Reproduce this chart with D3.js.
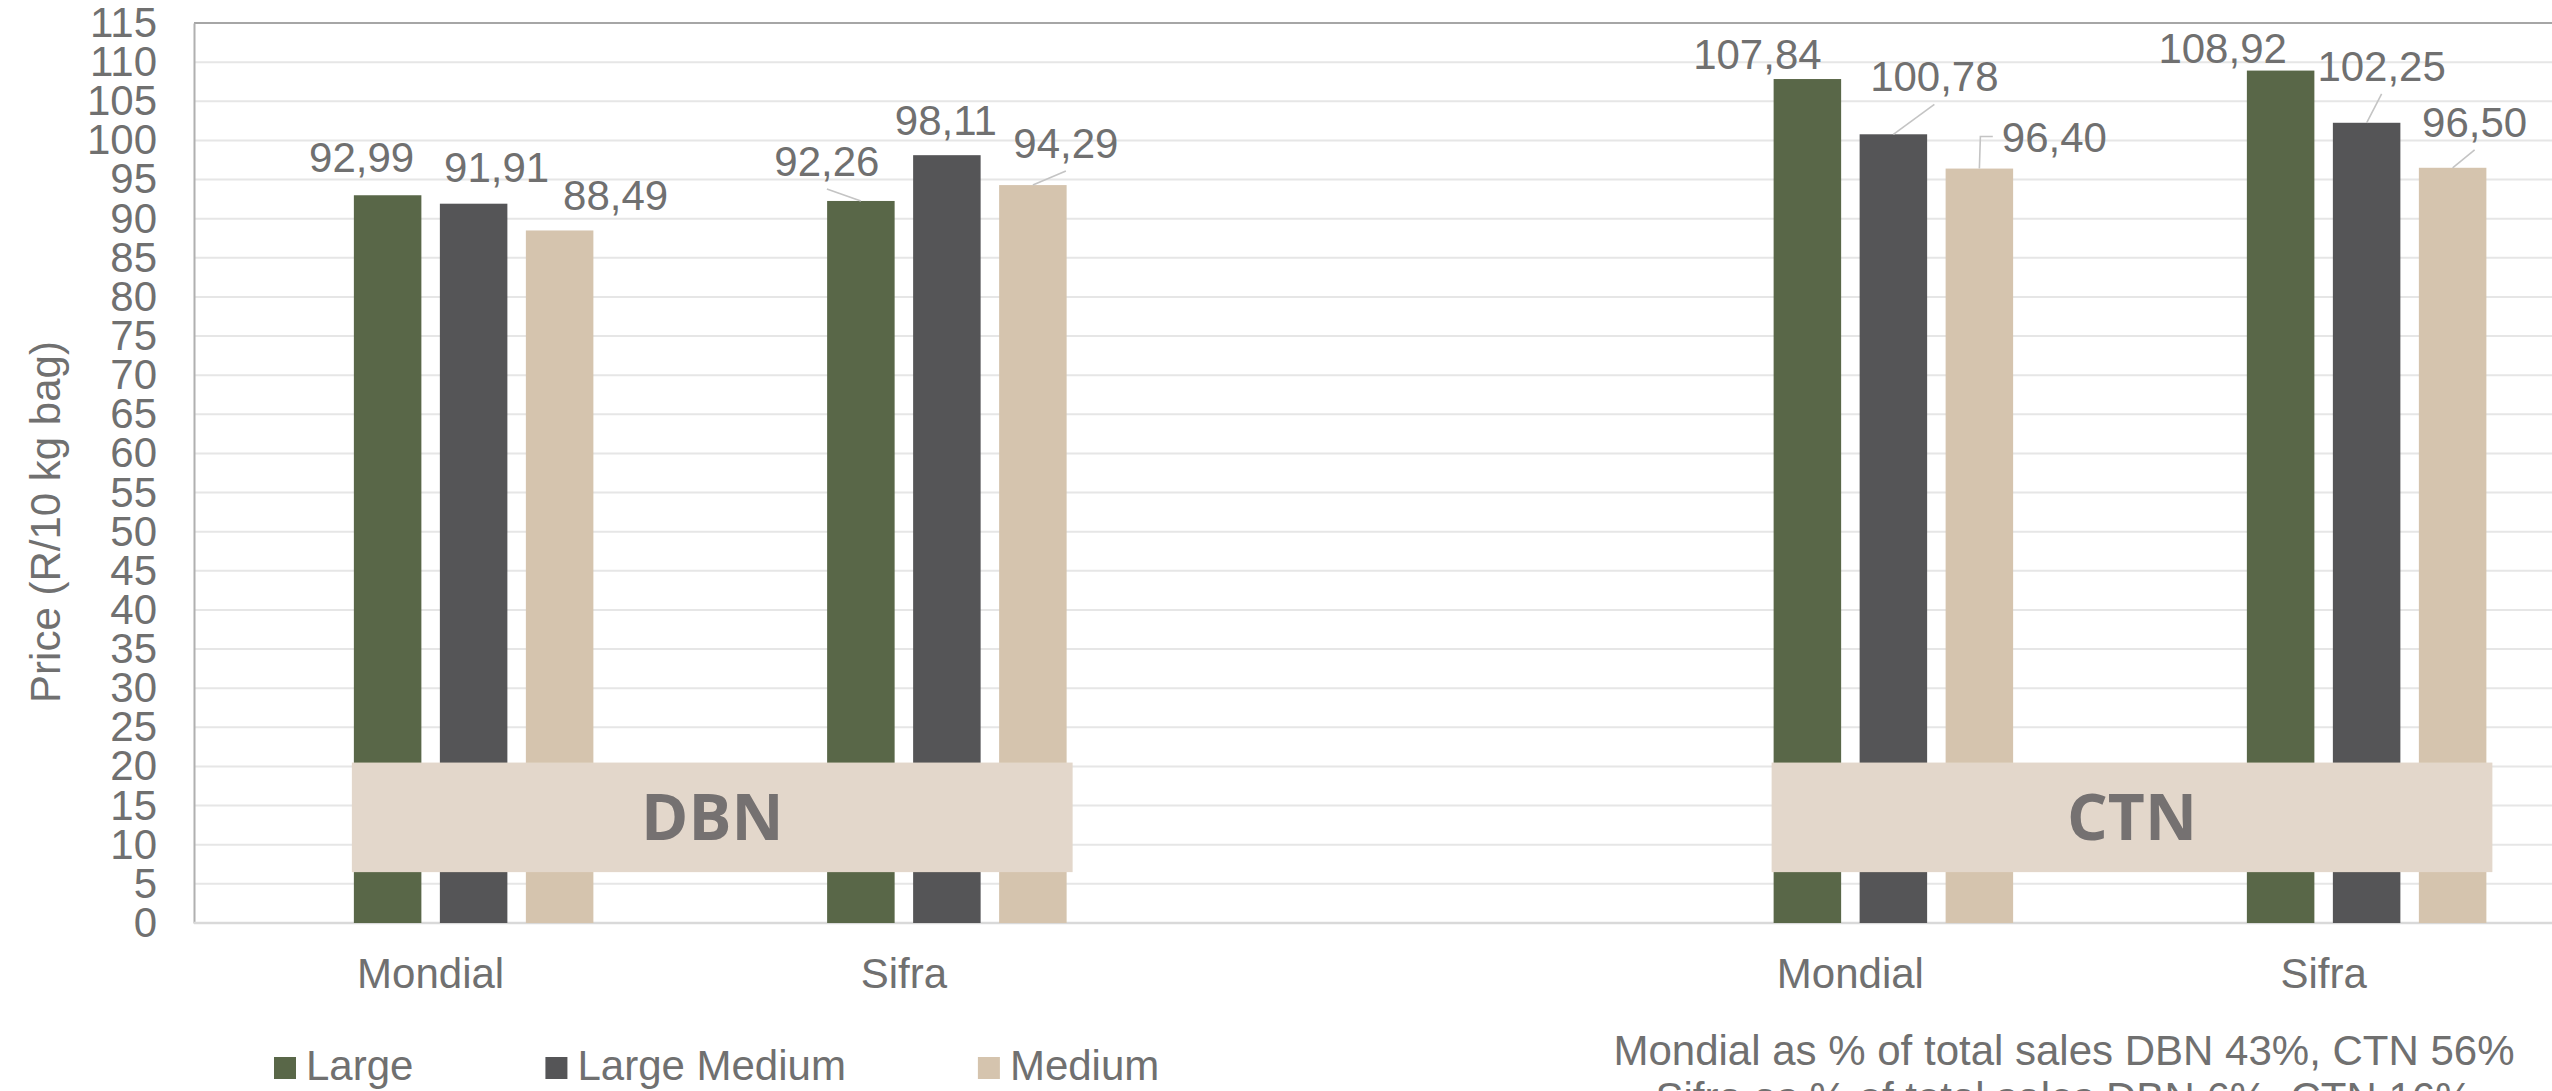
<!DOCTYPE html>
<html>
<head>
<meta charset="utf-8">
<script src="https://cdn.jsdelivr.net/npm/d3@7/dist/d3.min.js"></script>
<style>
  html, body { margin: 0; padding: 0; background: #ffffff; overflow: hidden; }
  svg { display: block; }
</style>
</head>
<body>
<svg id="chart" width="2552" height="1091"></svg>
<script>
// ---------- data ----------
const categories = ["Mondial", "Sifra", "", "Mondial", "Sifra"];
const seriesNames = ["Large", "Large Medium", "Medium"];
const largeValues = [92.99, 92.26, null, 107.84, 108.92];
const largeMediumValues = [91.91, 98.11, null, 100.78, 102.25];
const mediumValues = [88.49, 94.29, null, 96.40, 96.50];
const yTicks = [0, 5, 10, 15, 20, 25, 30, 35, 40, 45, 50, 55, 60, 65, 70, 75, 80, 85, 90, 95, 100, 105, 110, 115];
const markets = ["DBN", "CTN"];
const marketCategories = [[0, 1], [3, 4]];
const yTitle = "Price (R/10 kg bag)";
const notes = ["Mondial as % of total sales DBN 43%, CTN 56%", "Sifra as % of total sales DBN 6%, CTN 16%"];

// ---------- layout (label offsets from bar top-centre: dx, dy of baseline, leader type) ----------
const labelLayout = [
  [[-26, -23, ""], [-34, -25, "b"], null, [-50, -10, ""], [-58, -8, ""]],
  [[23, -22, ""], [-1, -20, ""], null, [41, -43, "b"], [15, -42, "b"]],
  [[56, -20, ""], [33, -27, "b"], null, [75, -17, "l"], [22, -31, "b"]]
];

const colors = ["#596748", "#555557", "#d5c4ae"];
const textColor = "#707070";
const font = "'Liberation Sans', Arial, sans-serif";

const seriesValues = [largeValues, largeMediumValues, mediumValues];

const svg = d3.select("#chart");
const plotLeft = 194, plotTop = 23, plotBottom = 923;
const bandW = 473.25;

const x0 = d3.scaleBand()
  .domain(d3.range(categories.length))
  .range([plotLeft, plotLeft + bandW * categories.length]);

const x1 = d3.scaleBand()
  .domain(["_spacer", ...seriesNames])
  .range([0, x0.bandwidth()])
  .paddingInner(0.215)
  .paddingOuter(0.859);

const y = d3.scaleLinear().domain([0, 115]).range([plotBottom, plotTop]);

// gridlines
svg.append("g")
  .selectAll("line")
  .data(yTicks.filter(t => t > 0 && t < 115))
  .join("line")
  .attr("x1", plotLeft).attr("x2", 2552)
  .attr("y1", d => y(d)).attr("y2", d => y(d))
  .attr("stroke", "#e6e6e6").attr("stroke-width", 2);

// top border
svg.append("line")
  .attr("x1", plotLeft).attr("x2", 2552)
  .attr("y1", y(115)).attr("y2", y(115))
  .attr("stroke", "#a6a6a6").attr("stroke-width", 2.2);

// y axis
const yAxis = d3.axisLeft(y).tickValues(yTicks).tickSize(0).tickPadding(37);
const yg = svg.append("g").attr("transform", `translate(${plotLeft},0)`).call(yAxis);
yg.select(".domain").attr("stroke", "#b0b0b0").attr("stroke-width", 2);
yg.selectAll("text")
  .attr("fill", textColor)
  .style("font-family", font)
  .style("font-size", "42px");

// bottom axis line
svg.append("line")
  .attr("x1", plotLeft).attr("x2", 2552)
  .attr("y1", plotBottom).attr("y2", plotBottom)
  .attr("stroke", "#d9d9d9").attr("stroke-width", 2.5);

// x axis labels
const xAxis = d3.axisBottom(x0).tickSize(0).tickPadding(35).tickFormat(i => categories[i]);
const xg = svg.append("g").attr("transform", `translate(0,${plotBottom})`).call(xAxis);
xg.select(".domain").remove();
xg.selectAll("text")
  .attr("fill", textColor)
  .style("font-family", font)
  .style("font-size", "42px");

// y title
svg.append("text")
  .attr("transform", `translate(60,${(plotTop + plotBottom) / 2 + 49}) rotate(-90)`)
  .attr("text-anchor", "middle")
  .attr("fill", textColor)
  .style("font-family", font)
  .style("font-size", "42px")
  .text(yTitle);

// bars
const barData = [];
seriesValues.forEach((vals, s) => {
  vals.forEach((v, c) => {
    if (v == null) return;
    barData.push({ s, c, v, name: seriesNames[s] });
  });
});

svg.append("g")
  .selectAll("rect")
  .data(barData)
  .join("rect")
  .attr("x", d => x0(d.c) + x1(d.name))
  .attr("y", d => y(d.v))
  .attr("width", x1.bandwidth())
  .attr("height", d => y(0) - y(d.v))
  .attr("fill", d => colors[d.s]);

// data labels + leader lines
const fmt = v => v.toFixed(2).replace(".", ",");
const leaderG = svg.append("g");
const labelG = svg.append("g");
barData.forEach(d => {
  const lay = labelLayout[d.s][d.c];
  const bx = x0(d.c) + x1(d.name) + x1.bandwidth() / 2;
  const by = y(d.v);
  const lx = bx + lay[0];
  const ly = by + lay[1];
  const t = labelG.append("text")
    .attr("x", lx).attr("y", ly)
    .attr("text-anchor", "middle")
    .attr("fill", textColor)
    .style("font-family", font)
    .style("font-size", "42px")
    .text(fmt(d.v));
  if (lay[2] === "b") {
    leaderG.append("line")
      .attr("x1", lx).attr("y1", ly + 13)
      .attr("x2", bx).attr("y2", by)
      .attr("stroke", "#c4c4c4").attr("stroke-width", 1.6);
  } else if (lay[2] === "l") {
    const w = t.node().getComputedTextLength();
    const left = lx - w / 2;
    leaderG.append("path")
      .attr("d", d3.line()([[left - 9, ly - 15], [bx + 1, ly - 15], [bx, by]]))
      .attr("fill", "none")
      .attr("stroke", "#c4c4c4").attr("stroke-width", 1.6);
  }
});

// market boxes
markets.forEach((m, i) => {
  const [c0, c1] = marketCategories[i];
  const xl = x0(c0) + x1(seriesNames[0]) - 2;
  const xr = x0(c1) + x1(seriesNames[2]) + x1.bandwidth() + 6;
  const yt = y(20.5), yb = y(6.5);
  svg.append("rect")
    .attr("x", xl).attr("y", yt)
    .attr("width", xr - xl).attr("height", yb - yt)
    .attr("fill", "#e3d7cb");
  svg.append("text")
    .attr("x", (xl + xr) / 2).attr("y", (yt + yb) / 2)
    .attr("dy", "0.36em")
    .attr("text-anchor", "middle")
    .attr("fill", "#757171")
    .style("font-family", "'Open Sans', sans-serif")
    .style("font-weight", "bold")
    .style("font-size", "64px")
    .text(m);
});

// legend
const legend = svg.append("g").attr("transform", "translate(274,1057)");
let lxPos = 0;
seriesNames.forEach((n, i) => {
  const g = legend.append("g").attr("transform", `translate(${lxPos},0)`);
  g.append("rect").attr("width", 22).attr("height", 22).attr("fill", colors[i]);
  const t = g.append("text")
    .attr("x", 32).attr("y", 23)
    .attr("fill", textColor)
    .style("font-family", font)
    .style("font-size", "42px")
    .text(n);
  lxPos += 32 + t.node().getComputedTextLength() + 132;
});

// notes
notes.forEach((n, i) => {
  svg.append("text")
    .attr("x", 2064).attr("y", 1065 + i * 47)
    .attr("text-anchor", "middle")
    .attr("fill", textColor)
    .style("font-family", font)
    .style("font-size", "42px")
    .text(n);
});
</script>
</body>
</html>
